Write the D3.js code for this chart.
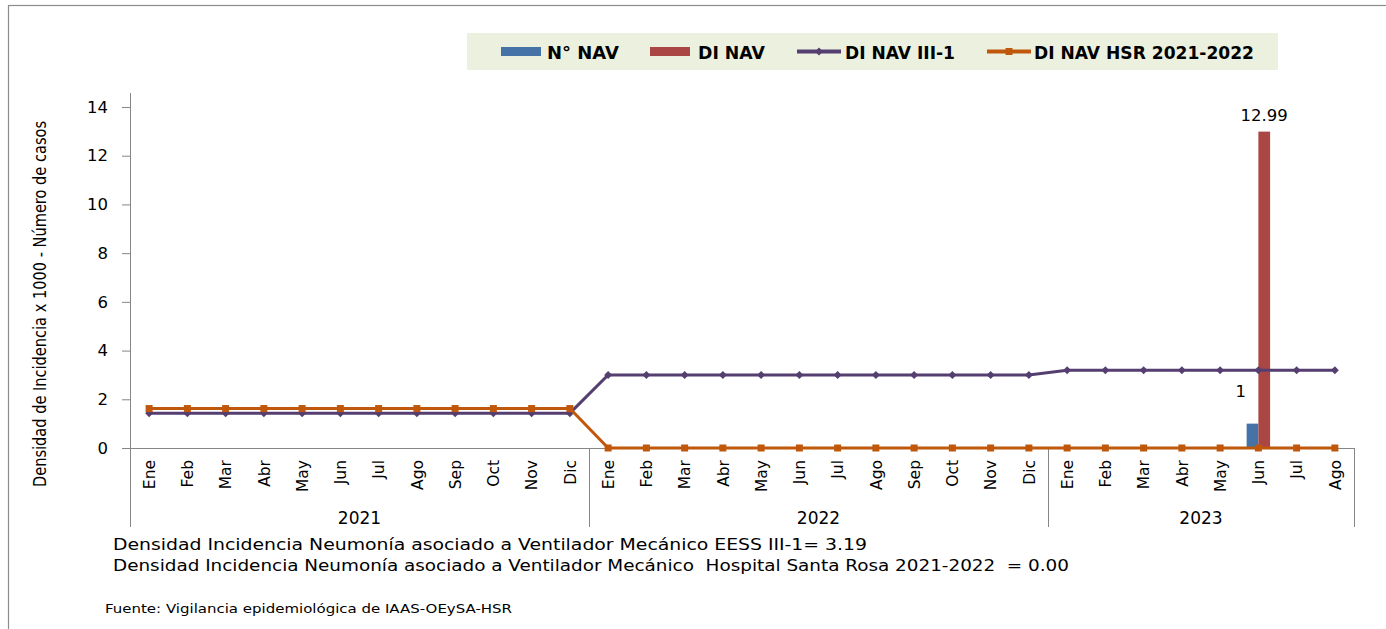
<!DOCTYPE html>
<html>
<head>
<meta charset="utf-8">
<script src="https://cdn.jsdelivr.net/npm/d3@7"></script>
<style>
body { margin: 0; background: #fff; }
svg { display: block; }
</style>
</head>
<body>
<svg id="chart" width="1386" height="629"></svg>
<script>
// data
var months2021 = ["Ene","Feb","Mar","Abr","May","Jun","Jul","Ago","Sep","Oct","Nov","Dic"];
var months2022 = ["Ene","Feb","Mar","Abr","May","Jun","Jul","Ago","Sep","Oct","Nov","Dic"];
var months2023 = ["Ene","Feb","Mar","Abr","May","Jun","Jul","Ago"];
var years = ["2021","2022","2023"];

var nNav = [null,null,null,null,null,null,null,null,null,null,null,null,
            null,null,null,null,null,null,null,null,null,null,null,null,
            null,null,null,null,null,1,null,null];
var diNav = [null,null,null,null,null,null,null,null,null,null,null,null,
             null,null,null,null,null,null,null,null,null,null,null,null,
             null,null,null,null,null,12.99,null,null];
var diNavIII = [1.43,1.43,1.43,1.43,1.43,1.43,1.43,1.43,1.43,1.43,1.43,1.43,
                3.00,3.00,3.00,3.00,3.00,3.00,3.00,3.00,3.00,3.00,3.00,3.00,
                3.19,3.19,3.19,3.19,3.19,3.19,3.19,3.19];
var diNavHSR = [1.62,1.62,1.62,1.62,1.62,1.62,1.62,1.62,1.62,1.62,1.62,1.62,
                0,0,0,0,0,0,0,0,0,0,0,0,
                0,0,0,0,0,0,0,0];
var yTicks = [0,2,4,6,8,10,12,14];

var seriesNames = ["N° NAV","DI NAV","DI NAV III-1","DI NAV HSR 2021-2022"];
var colors = {blue:"#4572a7", red:"#aa4643", purple:"#553f70", orange:"#c0580c"};

var notes = [
  "Densidad Incidencia Neumonía asociado a Ventilador Mecánico EESS III-1= 3.19",
  "Densidad Incidencia Neumonía asociado a Ventilador Mecánico  Hospital Santa Rosa 2021-2022  = 0.00"
];
var source = "Fuente: Vigilancia epidemiológica de IAAS-OEySA-HSR";
var yTitle = "Densidad de Incidencia x 1000 - Número de casos";

var groups = [months2021, months2022, months2023];
var cats = [];
groups.forEach(function(ms, gi){
  ms.forEach(function(m){ cats.push({key: years[gi] + "-" + m, month: m, year: years[gi]}); });
});
cats.forEach(function(c, i){
  c.nNav = nNav[i]; c.diNav = diNav[i]; c.iii = diNavIII[i]; c.hsr = diNavHSR[i];
});

var svg = d3.select("#chart");
var font = "'DejaVu Sans', sans-serif";

// outer frame (runs off the right and bottom edges)
svg.append("rect")
  .attr("x", 8.5).attr("y", 5.5)
  .attr("width", 1400).attr("height", 640)
  .attr("fill", "#fff").attr("stroke", "#8c8c8c").attr("stroke-width", 1.2);

var x = d3.scaleBand().domain(cats.map(function(d){ return d.key; })).range([130, 1354]).padding(0);
var y = d3.scaleLinear().domain([0, 14]).range([448, 107]);
var xb = d3.scaleBand().domain(["nNav","diNav"]).range([0, x.bandwidth()]).paddingInner(0).paddingOuter(0.63);

// y axis
var yAxis = svg.append("g")
  .attr("transform", "translate(130,0)")
  .call(d3.axisLeft(y).tickValues(yTicks).tickSize(8).tickPadding(14).tickSizeOuter(0));
yAxis.select(".domain").remove();
yAxis.selectAll(".tick line").attr("stroke", "#868686");
yAxis.selectAll(".tick text")
  .attr("font-family", font).attr("font-size", 16.5).attr("fill", "#000");

svg.append("line")
  .attr("x1", 130.5).attr("x2", 130.5).attr("y1", 93).attr("y2", 527)
  .attr("stroke", "#868686");

// category axis line and group separators
svg.append("line")
  .attr("x1", 122).attr("x2", 1354).attr("y1", 448.5).attr("y2", 448.5)
  .attr("stroke", "#868686");

var bounds = [];
var acc = 0;
groups.forEach(function(ms){ acc += ms.length; bounds.push(cats[acc - 1].key); });
svg.selectAll(".sep").data(bounds).enter().append("line")
  .attr("class", "sep")
  .attr("x1", function(k){ return Math.round(x(k) + x.bandwidth()) + 0.5; })
  .attr("x2", function(k){ return Math.round(x(k) + x.bandwidth()) + 0.5; })
  .attr("y1", 448).attr("y2", 527)
  .attr("stroke", "#868686");

// month labels
svg.selectAll(".month").data(cats).enter().append("text")
  .attr("class", "month")
  .attr("transform", function(d){ return "translate(" + (x(d.key) + x.bandwidth() / 2) + ",460) rotate(-90)"; })
  .attr("dy", "0.37em")
  .attr("text-anchor", "end")
  .attr("font-family", font).attr("font-size", 15.5)
  .text(function(d){ return d.month; });

// year labels
var startIdx = 0;
groups.forEach(function(ms, gi){
  var x0 = x(cats[startIdx].key), x1 = x(cats[startIdx + ms.length - 1].key) + x.bandwidth();
  svg.append("text")
    .attr("x", (x0 + x1) / 2).attr("y", 524)
    .attr("text-anchor", "middle")
    .attr("font-family", font).attr("font-size", 17)
    .text(years[gi]);
  startIdx += ms.length;
});

// bars
svg.selectAll(".barN").data(cats.filter(function(d){ return d.nNav != null; })).enter().append("rect")
  .attr("class", "barN")
  .attr("x", function(d){ return x(d.key) + xb("nNav"); })
  .attr("width", xb.bandwidth())
  .attr("y", function(d){ return y(d.nNav); })
  .attr("height", function(d){ return y(0) - y(d.nNav); })
  .attr("fill", colors.blue);
svg.selectAll(".barD").data(cats.filter(function(d){ return d.diNav != null; })).enter().append("rect")
  .attr("class", "barD")
  .attr("x", function(d){ return x(d.key) + xb("diNav"); })
  .attr("width", xb.bandwidth())
  .attr("y", function(d){ return y(d.diNav); })
  .attr("height", function(d){ return y(0) - y(d.diNav); })
  .attr("fill", colors.red);

// bar labels
svg.selectAll(".lblN").data(cats.filter(function(d){ return d.nNav != null; })).enter().append("text")
  .attr("x", function(d){ return x(d.key) + xb("nNav") - 6; })
  .attr("y", function(d){ return y(d.nNav) - 27; })
  .attr("text-anchor", "middle")
  .attr("font-family", font).attr("font-size", 16.5)
  .text(function(d){ return d.nNav; });
svg.selectAll(".lblD").data(cats.filter(function(d){ return d.diNav != null; })).enter().append("text")
  .attr("x", function(d){ return x(d.key) + xb("diNav") + xb.bandwidth() / 2; })
  .attr("y", function(d){ return y(d.diNav) - 11; })
  .attr("text-anchor", "middle")
  .attr("font-family", font).attr("font-size", 16.5)
  .text(function(d){ return d3.format(".2f")(d.diNav); });

// lines
var cx = function(d){ return x(d.key) + x.bandwidth() / 2; };
var lineIII = d3.line().x(cx).y(function(d){ return y(d.iii); });
var lineHSR = d3.line().x(cx).y(function(d){ return y(d.hsr); });

svg.append("path").datum(cats).attr("d", lineIII)
  .attr("fill", "none").attr("stroke", colors.purple).attr("stroke-width", 3);
svg.selectAll(".mIII").data(cats).enter().append("path")
  .attr("transform", function(d){ return "translate(" + cx(d) + "," + y(d.iii) + ")"; })
  .attr("d", d3.symbol().type(d3.symbolDiamond2).size(40))
  .attr("fill", colors.purple);

svg.append("path").datum(cats).attr("d", lineHSR)
  .attr("fill", "none").attr("stroke", colors.orange).attr("stroke-width", 3);
svg.selectAll(".mHSR").data(cats).enter().append("rect")
  .attr("x", function(d){ return cx(d) - 3.5; })
  .attr("y", function(d){ return y(d.hsr) - 3.5; })
  .attr("width", 7).attr("height", 7)
  .attr("fill", colors.orange);

// y axis title
svg.append("text")
  .attr("transform", "translate(40,304) rotate(-90)")
  .attr("dy", "0.35em")
  .attr("text-anchor", "middle")
  .attr("font-family", font).attr("font-size", 17)
  .attr("textLength", 366).attr("lengthAdjust", "spacingAndGlyphs")
  .text(yTitle);

// legend
var lg = svg.append("g");
lg.append("rect").attr("x", 467).attr("y", 33).attr("width", 811).attr("height", 37).attr("fill", "#ebf1de");
var legendItems = [
  {name: seriesNames[0], kind: "bar", color: colors.blue, sx: 501, tx: 547, tw: 72},
  {name: seriesNames[1], kind: "bar", color: colors.red, sx: 650, tx: 698, tw: 67},
  {name: seriesNames[2], kind: "diamond", color: colors.purple, sx: 797, tx: 845, tw: 110},
  {name: seriesNames[3], kind: "square", color: colors.orange, sx: 987, tx: 1034, tw: 220}
];
legendItems.forEach(function(it){
  if (it.kind === "bar") {
    lg.append("rect").attr("x", it.sx).attr("y", 47).attr("width", 40).attr("height", 9).attr("fill", it.color);
  } else {
    lg.append("line").attr("x1", it.sx).attr("x2", it.sx + 44).attr("y1", 51.5).attr("y2", 51.5)
      .attr("stroke", it.color).attr("stroke-width", 4);
    if (it.kind === "diamond") {
      lg.append("path").attr("transform", "translate(" + (it.sx + 22) + ",51.5)")
        .attr("d", d3.symbol().type(d3.symbolDiamond2).size(40)).attr("fill", it.color);
    } else {
      lg.append("rect").attr("x", it.sx + 18.5).attr("y", 48).attr("width", 7).attr("height", 7).attr("fill", it.color);
    }
  }
  lg.append("text").attr("x", it.tx).attr("y", 58.5)
    .attr("font-family", font).attr("font-size", 17).attr("font-weight", "bold")
    .attr("textLength", it.tw).attr("lengthAdjust", "spacingAndGlyphs")
    .text(it.name);
});

// notes under the chart
svg.append("text").attr("x", 113).attr("y", 549.5)
  .attr("font-family", font).attr("font-size", 16)
  .attr("textLength", 754).attr("lengthAdjust", "spacingAndGlyphs")
  .style("white-space", "pre")
  .text(notes[0]);
svg.append("text").attr("x", 113).attr("y", 570.5)
  .attr("font-family", font).attr("font-size", 16)
  .attr("textLength", 956).attr("lengthAdjust", "spacingAndGlyphs")
  .style("white-space", "pre")
  .text(notes[1]);
svg.append("text").attr("x", 105).attr("y", 613)
  .attr("font-family", font).attr("font-size", 11.5)
  .attr("textLength", 407).attr("lengthAdjust", "spacingAndGlyphs")
  .text(source);
</script>
</body>
</html>
